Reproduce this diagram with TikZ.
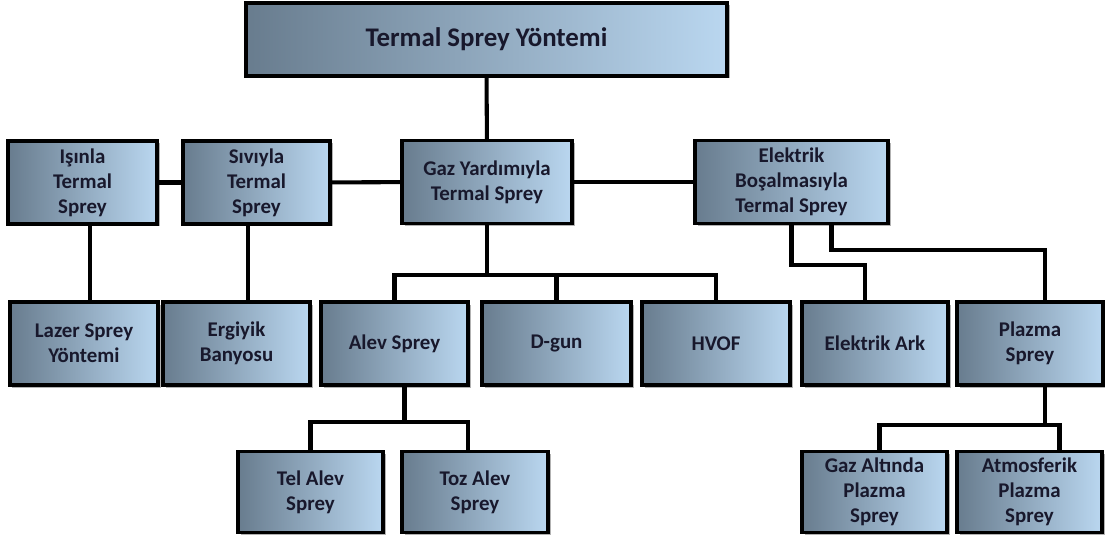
\documentclass[tikz,border=0pt]{standalone}
\usepackage{fontspec}
\setmainfont{Carlito}
\usepackage{tikz}
\usetikzlibrary{positioning, calc, shadows}

\definecolor{boxdark}{RGB}{104,124,142}
\definecolor{boxlight}{RGB}{186,215,240}
\definecolor{boxtext}{RGB}{24,24,44}

\begin{document}
\begin{tikzpicture}[
  font=\fontsize{11.9}{14.2}\selectfont\bfseries,
  method/.style={rectangle, draw=black, line width=1.8pt, align=center,
                 inner sep=1pt, text=boxtext,
                 left color=boxdark, right color=boxlight,
                 drop shadow={shadow xshift=0.05cm, shadow yshift=-0.05cm,
                              fill=black, opacity=0.3},
                 minimum height=1.66cm},
  link/.style={line width=2.3pt, black}]
  \useasboundingbox (0,0) rectangle (22.1,-10.74);
  % top
  \node[method, minimum width=9.62cm, minimum height=1.46cm,
        font=\fontsize{15.3}{18}\selectfont\bfseries] (termal) at (9.73,-0.79) {Termal Sprey Yöntemi};
  % second row
  \node[method, minimum width=2.98cm] (isinla)   at (1.65,-3.65)  {Işınla\\Termal\\Sprey};
  \node[method, minimum width=2.94cm] (siviyla)  at (5.13,-3.65)  {Sıvıyla\\Termal\\Sprey};
  \node[method, minimum width=3.40cm] (gaz)      at (9.74,-3.64)  {Gaz Yardımıyla\\Termal Sprey};
  \node[method, minimum width=3.86cm] (elektrik) at (15.83,-3.64) {Elektrik\\Boşalmasıyla\\Termal Sprey};
  % third row
  \node[method, minimum width=2.96cm] (lazer)   at (1.68,-6.87)  {Lazer Sprey\\Yöntemi};
  \node[method, minimum width=2.94cm] (ergiyik) at (4.73,-6.87)  {Ergiyik\\Banyosu};
  \node[method, minimum width=2.94cm] (alev)    at (7.89,-6.87)  {Alev Sprey};
  \node[method, minimum width=2.98cm] (dgun)    at (11.13,-6.87) {D-gun};
  \node[method, minimum width=2.96cm] (hvof)    at (14.32,-6.87) {HVOF};
  \node[method, minimum width=2.92cm] (ark)     at (17.50,-6.87) {Elektrik Ark};
  \node[method, minimum width=2.92cm] (plazma)  at (20.60,-6.87) {Plazma\\Sprey};
  % fourth row
  \node[method, minimum width=2.90cm, minimum height=1.62cm] (tel)    at (6.21,-9.84)  {Tel Alev\\Sprey};
  \node[method, minimum width=2.92cm, minimum height=1.62cm] (toz)    at (9.50,-9.84)  {Toz Alev\\Sprey};
  \node[method, minimum width=2.90cm, minimum height=1.62cm] (gazalt) at (17.49,-9.84) {Gaz Altında\\Plazma\\Sprey};
  \node[method, minimum width=2.90cm, minimum height=1.62cm] (atmos)  at (20.59,-9.84) {Atmosferik\\Plazma\\Sprey};

  % connectors
  \draw[link] (termal) -- (gaz);
  \draw[link] (isinla) -- (siviyla);
  \draw[link] (siviyla) -- (gaz);
  \draw[link] (gaz) -- (elektrik);
  \draw[link] ([xshift=0.15cm]isinla.south) -- ([xshift=0.15cm]isinla.south |- lazer.north);
  \draw[link] ([xshift=-0.17cm]siviyla.south) -- ([xshift=-0.17cm]siviyla.south |- ergiyik.north);
  \draw[link] (gaz.south) -- ++(0,-1.0) coordinate (gazbus);
  \draw[link] (gazbus) -| (alev.north);
  \draw[link] (gazbus) -| (dgun.north);
  \draw[link] (gazbus) -| (hvof.north);
  \draw[link] (elektrik.south) -- ++(0,-0.8) -| ([xshift=-0.2cm]ark.north);
  \draw[link] ([xshift=0.8cm]elektrik.south) -- ++(0,-0.5) -| ([xshift=0.3cm]plazma.north);
  \draw[link] ([xshift=0.2cm]alev.south) -- ++(0,-0.7) coordinate (alevbus);
  \draw[link] (alevbus) -| (tel.north);
  \draw[link] (alevbus) -| ([xshift=-0.14cm]toz.north);
  \draw[link] ([xshift=0.3cm]plazma.south) -- ++(0,-0.76) coordinate (plazmabus);
  \draw[link] (plazmabus) -| ([xshift=0.1cm]gazalt.north);
  \draw[link] (plazmabus) -| ([xshift=0.6cm]atmos.north);
\end{tikzpicture}
\end{document}
